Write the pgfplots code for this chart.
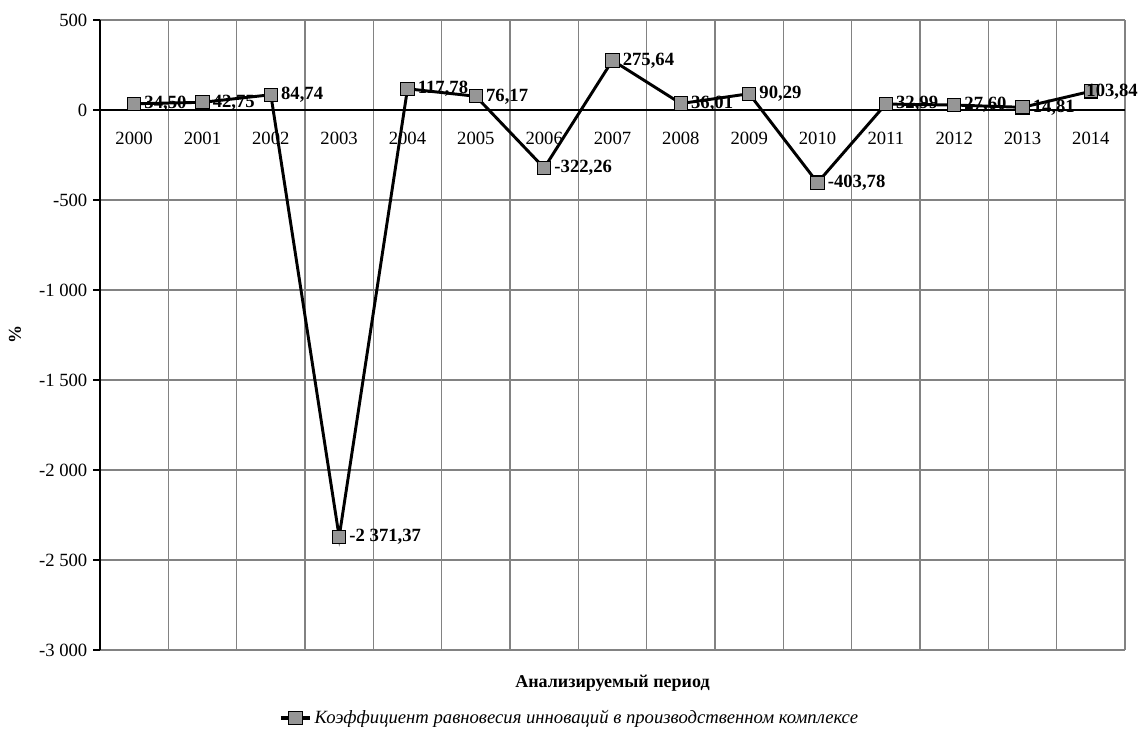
\documentclass[border=0pt]{standalone}
\usepackage{fontspec}
\setmainfont{Liberation Serif}
\usepackage{pgfplots}
\usepackage{pgfplotstable}
\pgfplotsset{compat=1.18}
\definecolor{gridgray}{RGB}{130,130,130}
\definecolor{markgray}{RGB}{150,150,150}
\pgfplotstableread[col sep=semicolon, row sep=\\]{
x;y;lab;dx\\
0;34.50;34,50;4\\
1;42.75;42,75;4\\
2;84.74;84,74;4\\
3;-2371.37;-2\ 371,37;4\\
4;117.78;117,78;4\\
5;76.17;76,17;4\\
6;-322.26;-322,26;4\\
7;275.64;275,64;4\\
8;36.01;36,01;4\\
9;90.29;90,29;4\\
10;-403.78;-403,78;4\\
11;32.99;32,99;4\\
12;27.60;27,60;4\\
13;14.81;14,81;4\\
14;103.84;103,84;-7\\
}\datatab
\begin{document}
\begin{tikzpicture}
\path[use as bounding box] (-75pt,-66pt) rectangle (780pt,487.5pt);
\begin{axis}[
  scale only axis,
  width=768.75pt, height=472.5pt,
  xmin=-0.5, xmax=14.5,
  ymin=-3000, ymax=500,
  axis x line*=middle,
  axis y line*=left,
  axis line style={black, line width=0.8pt},
  xtick={0,...,14},
  xticklabels={2000,2001,2002,2003,2004,2005,2006,2007,2008,2009,2010,2011,2012,2013,2014},
  minor xtick={-0.5,0.5,...,14.5},
  xminorgrids=true,
  minor grid style={gridgray, line width=0.8pt},
  x tick style={draw=none},
  minor x tick style={draw=none},
  ytick={-3000,-2500,...,500},
  ymajorgrids=true,
  major grid style={gridgray, line width=0.8pt},
  y tick style={black, line width=0.8pt},
  tick align=outside,
  major tick length=5pt,
  tick label style={font=\fontsize{14}{16}\selectfont},
  xticklabel style={yshift=-8pt},
  yticklabel style={xshift=-1pt},
  /pgf/number format/assume math mode=true,
  y tick label style={/pgf/number format/.cd, use comma, 1000 sep={\ }},
  xlabel={\textbf{Анализируемый период}},
  xlabel style={at={(axis description cs:0.5,-0.0524)}, anchor=center, font=\fontsize{13.5}{16}\selectfont},
  ylabel={\textbf{\%}},
  ylabel style={at={(axis description cs:-0.0829,0.5)}, anchor=center, font=\fontsize{13.5}{16}\selectfont},
  legend style={at={(axis description cs:0.4585,-0.108)}, anchor=center, draw=none, fill=none,
    font=\fontsize{14}{16}\selectfont\itshape},
  legend cell align=left,
  legend image code/.code={\draw[black, line width=2.6pt] (0pt,0pt) -- (22pt,0pt); \draw[#1, only marks] plot coordinates {(11pt,0pt)};},
  clip=false,
]
\addplot[black, line width=2.2pt, mark=square*,
  mark options={fill=markgray, draw=black, line width=0.8pt, mark size=5pt},
  point meta=explicit symbolic,
  visualization depends on={\thisrow{dx} \as \dx},
  nodes near coords,
  nodes near coords style={anchor=west, xshift=\dx pt, font=\fontsize{14}{16}\selectfont\bfseries, black},
] table[x=x, y=y, meta=lab] {\datatab};
\addlegendentry{Коэффициент равновесия инноваций в производственном комплексе}
\end{axis}
\end{tikzpicture}
\end{document}
